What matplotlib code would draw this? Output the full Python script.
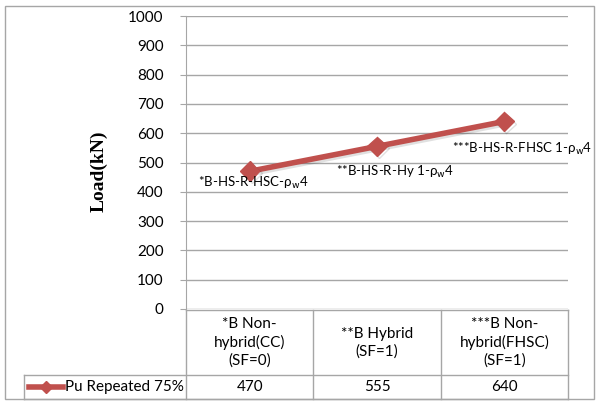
import matplotlib
matplotlib.use("Agg")
from matplotlib import pyplot as plt
from matplotlib import transforms
from matplotlib.lines import Line2D
from matplotlib.patches import Rectangle
import matplotlib.patheffects as pe

categories = ["*B Non-\nhybrid(CC)\n(SF=0)", "**B Hybrid\n(SF=1)",
              "***B Non-\nhybrid(FHSC)\n(SF=1)"]
series_name = "Pu Repeated 75%"
load = [470, 555, 640]
specimens = [r"*B-HS-R-HSC-ρ$_\mathrm{w}$4", r"**B-HS-R-Hy 1-ρ$_\mathrm{w}$4",
             r"***B-HS-R-FHSC 1-ρ$_\mathrm{w}$4"]
y_ticks = list(range(0, 1001, 100))

RED = "#C0504D"
GRID = "#A6A6A6"
W, H = 600, 405

plt.rcParams['font.family'] = ['Lato', 'DejaVu Sans']

fig = plt.figure(figsize=(W / 100, H / 100), dpi=100)
# plot area in pixels: x 186..568, y 16..309
ax = fig.add_axes([186 / W, 1 - 309 / H, (568 - 186) / W, (309 - 16) / H])

x = list(range(len(load)))
ax.plot(x, load, color=RED, lw=4, marker="D", ms=10, mec=RED, mfc=RED,
        zorder=3, clip_on=False,
        path_effects=[pe.SimpleLineShadow(offset=(1.5, -1.5), alpha=0.12),
                      pe.Normal()])

ax.set_xlim(-0.5, len(load) - 0.5)
ax.set_ylim(0, 1000)
ax.set_yticks(y_ticks)
ax.set_xticks([])
ax.grid(axis="y", color=GRID, lw=1)
ax.set_axisbelow(True)
for s in ["top", "right", "bottom"]:
    ax.spines[s].set_visible(False)
ax.spines["left"].set_color(GRID)
ax.tick_params(axis="y", length=4, color=GRID, pad=12, labelsize=11)

ax.set_ylabel("Load(kN)", family="Liberation Serif", fontweight="bold",
              fontsize=14)
ax.yaxis.set_label_coords(-0.205, 0.47)

# specimen labels next to points
offsets = [(-52, -12), (-41, -26), (-52, -27)]
for xi, yi, lab, off in zip(x, load, specimens, offsets):
    ax.annotate(lab, (xi, yi), xytext=off, textcoords="offset pixels",
                ha="left", va="center", fontsize=9.5)

# data table under the plot
blend = transforms.blended_transform_factory(ax.transData, fig.transFigure)
fy = lambda py: 1 - py / H
top, mid, bot = fy(310), fy(375), fy(399)
for e in [i - 0.5 for i in range(len(load) + 1)]:
    fig.add_artist(Line2D([e, e], [top, bot], transform=blend, color=GRID, lw=1))
fig.add_artist(Line2D([186 / W, 568 / W], [top, top], color=GRID, lw=1))
fig.add_artist(Line2D([24 / W, 568 / W], [mid, mid], color=GRID, lw=1))
fig.add_artist(Line2D([24 / W, 568 / W], [bot, bot], color=GRID, lw=1))
fig.add_artist(Line2D([24 / W, 24 / W], [mid, bot], color=GRID, lw=1))

for xi, cat, v in zip(x, categories, load):
    fig.text(xi, (top + mid) / 2, cat, transform=blend, ha="center",
             va="center", fontsize=11, linespacing=1.3)
    fig.text(xi, (mid + bot) / 2, str(v), transform=blend, ha="center",
             va="center", fontsize=11)

# legend key in the table row
row_y = (mid + bot) / 2
fig.add_artist(Line2D([29 / W, 46 / W, 63 / W], [row_y] * 3, color=RED,
                      lw=4, marker="D", ms=6, markevery=[1]))
fig.text(65 / W, row_y, series_name, ha="left", va="center", fontsize=11)

# outer chart border
fig.add_artist(Rectangle((5 / W, 1 - 399 / H), 589 / W, 393 / H, fill=False,
                         ec=GRID, lw=1, transform=fig.transFigure))

fig.savefig("out.png", dpi=100)
